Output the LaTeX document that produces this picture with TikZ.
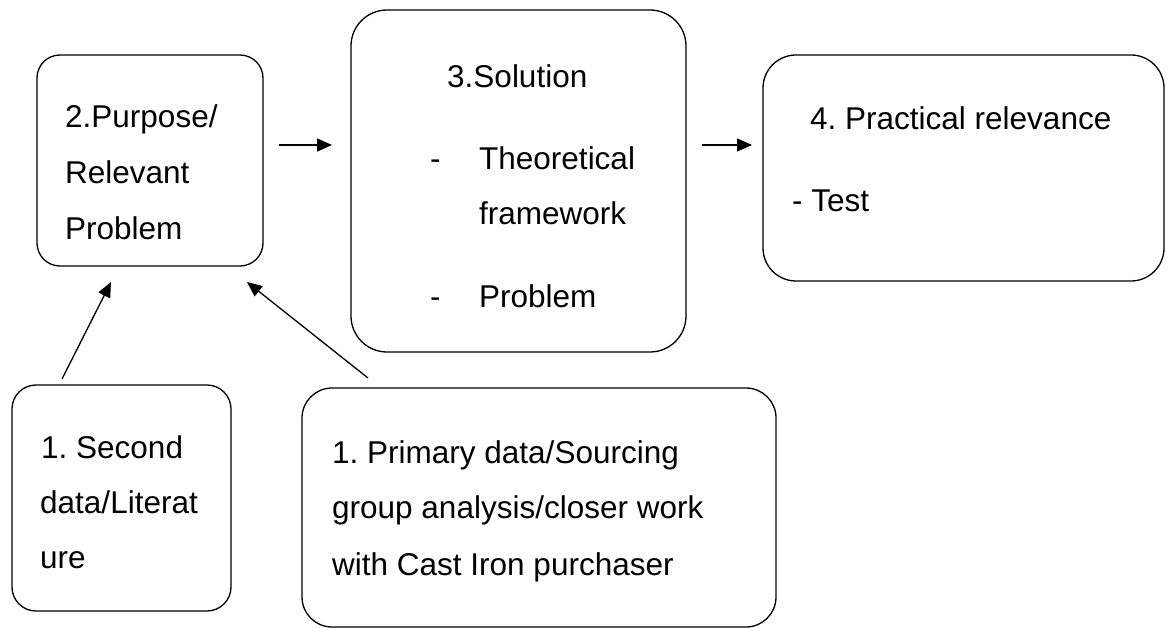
\documentclass[tikz,border=0pt]{standalone}
\usepackage{fontspec}
\setmainfont{Liberation Sans}
\usetikzlibrary{arrows.meta}
\frenchspacing
\begin{document}
\begin{tikzpicture}[x=1pt,y=-1pt,
  box/.style={draw, line width=1.3pt, rounded corners=#1, inner sep=0pt, outer sep=0pt},
  txt/.style={anchor=base west, inner sep=0pt, font=\fontsize{31.5}{36}\selectfont\frenchspacing},
  arr/.style={line width=1.3pt, -{Triangle[length=15pt,width=13pt]}}]
\useasboundingbox (0,0) rectangle (1172,628);
\clip (0,0) rectangle (1172,628);
% boxes
\node[box=23pt, minimum width=226pt, minimum height=211pt] (b2) at (150,160.5) {};
\node[box=36pt, minimum width=335pt, minimum height=342pt] (b3) at (518.5,181) {};
\node[box=33pt, minimum width=401pt, minimum height=226pt] (b4) at (963.5,168) {};
\node[box=24pt, minimum width=219pt, minimum height=226pt] (b1a) at (121.5,498) {};
\node[box=30pt, minimum width=474pt, minimum height=239pt] (b1b) at (539,507.5) {};
% texts
\node[txt] (t2a) at (65,128) {2.Purpose/};
\node[txt] (t2b) at (65,184) {Relevant};
\node[txt] (t2c) at (65,240) {Problem};
\node[txt] (t3a) at (447,88) {3.Solution};
\node[txt] (t3d1) at (430,170) {-};
\node[txt] (t3b) at (479,170) {Theoretical};
\node[txt] (t3c) at (479,225) {framework};
\node[txt] (t3d2) at (430,307) {-};
\node[txt] (t3e) at (479,307) {Problem};
\node[txt] (t4a) at (810,130) {4. Practical relevance};
\node[txt] (t4b) at (792,212) {- Test};
\node[txt] (t1a1) at (41,458) {1. Second};
\node[txt] (t1a2) at (40,513) {data/Literat};
\node[txt] (t1a3) at (40,568) {ure};
\node[txt] (t1b1) at (332,463) {1. Primary data/Sourcing};
\node[txt] (t1b2) at (332,518) {group analysis/closer work};
\node[txt] (t1b3) at (332,575) {with Cast Iron purchaser};
% arrow ends
\coordinate (a23s) at (279,145);
\coordinate (a23e) at (332,145);
\coordinate (a34s) at (702,145);
\coordinate (a34e) at (752,145);
\coordinate (a1as) at (62,379);
\coordinate (a1ae) at (111,282);
\coordinate (a1bs) at (368,378);
\coordinate (a1be) at (247,282);
\draw[arr] (a23s) -- (a23e);
\draw[arr] (a34s) -- (a34e);
\draw[arr] (a1as) -- (a1ae);
\draw[arr] (a1bs) -- (a1be);
\end{tikzpicture}
\end{document}
